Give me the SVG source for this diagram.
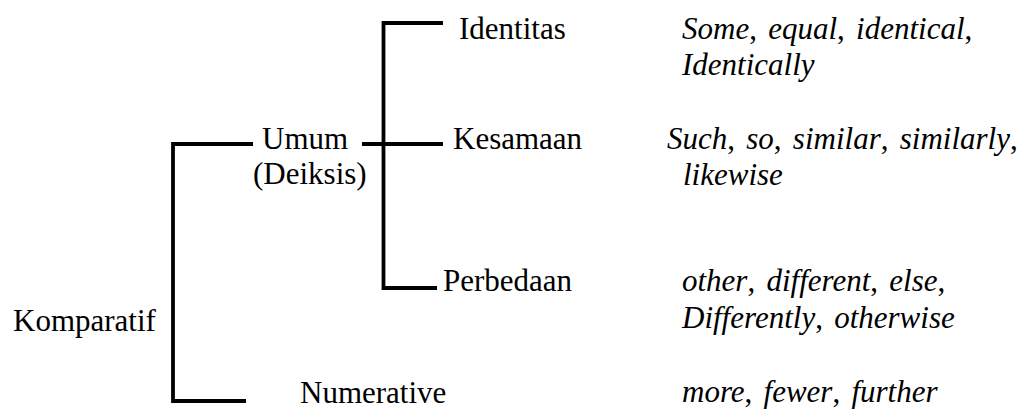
<svg xmlns="http://www.w3.org/2000/svg" width="1020" height="411" viewBox="0 0 1020 411">
  <style>
    text { font-family: "Liberation Serif", "Times New Roman", serif; font-size: 31px; fill: #000; }
    .ex { font-style: italic; word-spacing: 3.5px; }
    .up { font-style: normal; }
    .br { fill: none; stroke: #000; stroke-width: 3.8; stroke-linejoin: miter; stroke-linecap: butt; }
  </style>
  <rect width="1020" height="411" fill="#fff"/>

  <!-- bracket connectors -->
  <g id="connectors">
    <path class="br" d="M246,401 H173 V144 H253"/>
    <path class="br" d="M362,144 H443"/>
    <path class="br" d="M443,23 H383.5 V288 H437"/>
  </g>

  <g id="node-komparatif">
    <text x="13" y="331">Komparatif</text>
  </g>
  <g id="node-umum">
    <text x="262" y="149">Umum</text>
    <text x="253" y="184">(Deiksis)</text>
  </g>
  <g id="node-numerative">
    <text x="300" y="403">Numerative</text>
  </g>
  <g id="node-identitas">
    <text x="459" y="39">Identitas</text>
    <text class="ex" x="682" y="39">Some<tspan class="up">,</tspan> equal<tspan class="up">,</tspan> identical<tspan class="up">,</tspan></text>
    <text class="ex" x="682" y="75">Identically</text>
  </g>
  <g id="node-kesamaan">
    <text x="453" y="149">Kesamaan</text>
    <text class="ex" x="667" y="149">Such<tspan class="up">,</tspan> so<tspan class="up">,</tspan> similar<tspan class="up">,</tspan> similarly<tspan class="up">,</tspan></text>
    <text class="ex" x="683" y="185">likewise</text>
  </g>
  <g id="node-perbedaan">
    <text x="443" y="291">Perbedaan</text>
    <text class="ex" x="682" y="291">other<tspan class="up">,</tspan> different<tspan class="up">,</tspan> else<tspan class="up">,</tspan></text>
    <text class="ex" x="682" y="328">Differently<tspan class="up">,</tspan> otherwise</text>
  </g>
  <g id="node-numerative-ex">
    <text class="ex" x="682" y="402">more<tspan class="up">,</tspan> fewer<tspan class="up">,</tspan> further</text>
  </g>
</svg>
